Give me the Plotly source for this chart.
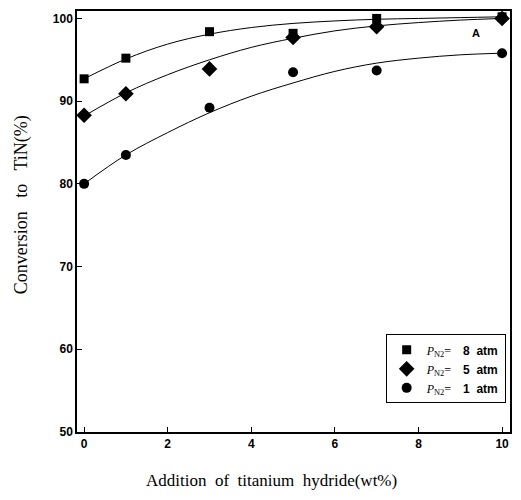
import plotly.graph_objects as go

# measured points
x_pts = [0, 1, 3, 5, 7, 10]
sq_vals = [92.7, 95.2, 98.4, 98.2, 100.0, 100.2]
di_vals = [88.3, 90.9, 93.9, 97.7, 99.0, 100.0]
ci_vals = [80.0, 83.5, 89.2, 93.5, 93.7, 95.8]

# fitted curves
x_fit = [0, 1, 2, 3, 4, 5, 6, 7, 8, 9, 10]
sq_fit = [92.7, 95.1, 96.9, 98.1, 98.9, 99.4, 99.7, 99.9, 100.0, 100.1, 100.2]
di_fit = [88.2, 91.0, 93.2, 95.0, 96.5, 97.6, 98.5, 99.1, 99.5, 99.8, 100.0]
ci_fit = [80.0, 83.5, 86.2, 88.6, 90.6, 92.2, 93.6, 94.6, 95.2, 95.6, 95.8]

sans = "font-family:'Liberation Sans'"
labels = ["<i>P</i><sub>N2</sub>=\u00a0\u00a0\u00a0\u00a0<span style=\"%s\"><b>8\u00a0 atm</b></span>" % sans,
          "<i>P</i><sub>N2</sub>=\u00a0\u00a0\u00a0\u00a0<span style=\"%s\"><b>5\u00a0 atm</b></span>" % sans,
          "<i>P</i><sub>N2</sub>=\u00a0\u00a0\u00a0\u00a0<span style=\"%s\"><b>1\u00a0 atm</b></span>" % sans]

x_ticks = [0, 2, 4, 6, 8, 10]
y_ticks = [50, 60, 70, 80, 90, 100]

x_title = "Addition\u00a0 of\u00a0 titanium\u00a0 hydride(wt%)"
y_title = "Conversion\u00a0\u00a0 to\u00a0\u00a0 TiN(%)"

fig = go.Figure()
for fit in (sq_fit, di_fit, ci_fit):
    fig.add_trace(go.Scatter(x=x_fit, y=fit, mode="lines", line=dict(color="black", width=1, shape="spline"),
                             showlegend=False, hoverinfo="skip"))

for vals, sym, size, lab in ((sq_vals, "square", 9, labels[0]),
                             (di_vals, "diamond", 12, labels[1]),
                             (ci_vals, "circle", 10, labels[2])):
    fig.add_trace(go.Scatter(x=x_pts, y=vals, mode="markers", name=lab,
                             marker=dict(symbol=sym, size=size, color="black")))

fig.add_annotation(x=9.38, y=98.2, text="<b>A</b>", showarrow=False,
                   font=dict(family="Liberation Sans", size=11, color="black"))

fig.add_annotation(xref="paper", yref="paper", x=0.45, y=-0.1418, xanchor="center", yanchor="bottom",
                   showarrow=False, text=x_title,
                   font=dict(family="Liberation Serif", size=17, color="black"))
fig.add_annotation(xref="paper", yref="paper", x=-0.129, y=0.539, xanchor="center", yanchor="middle",
                   textangle=-90, showarrow=False, text=y_title,
                   font=dict(family="Liberation Serif", size=18, color="black"))

axis_common = dict(showline=True, linecolor="black", linewidth=1.5, mirror=True, ticks="inside",
                   ticklen=5, tickcolor="black", showgrid=False, zeroline=False,
                   tickfont=dict(family="Liberation Sans", size=12, color="black", weight="bold"))
fig.update_xaxes(range=[-0.17, 10.19], tickvals=x_ticks, **axis_common)
fig.update_yaxes(range=[50, 100.9], tickvals=y_ticks, **axis_common)

fig.update_layout(
    width=505, height=484,
    margin=dict(l=69, r=3, t=1, b=60),
    plot_bgcolor="white", paper_bgcolor="white",
    legend=dict(x=0.99, y=0.068, xanchor="right", yanchor="bottom",
                bordercolor="black", borderwidth=1, bgcolor="white",
                font=dict(family="Liberation Serif", size=12, color="black"),
                tracegroupgap=0, itemwidth=30),
)

fig.write_html("out.html")
